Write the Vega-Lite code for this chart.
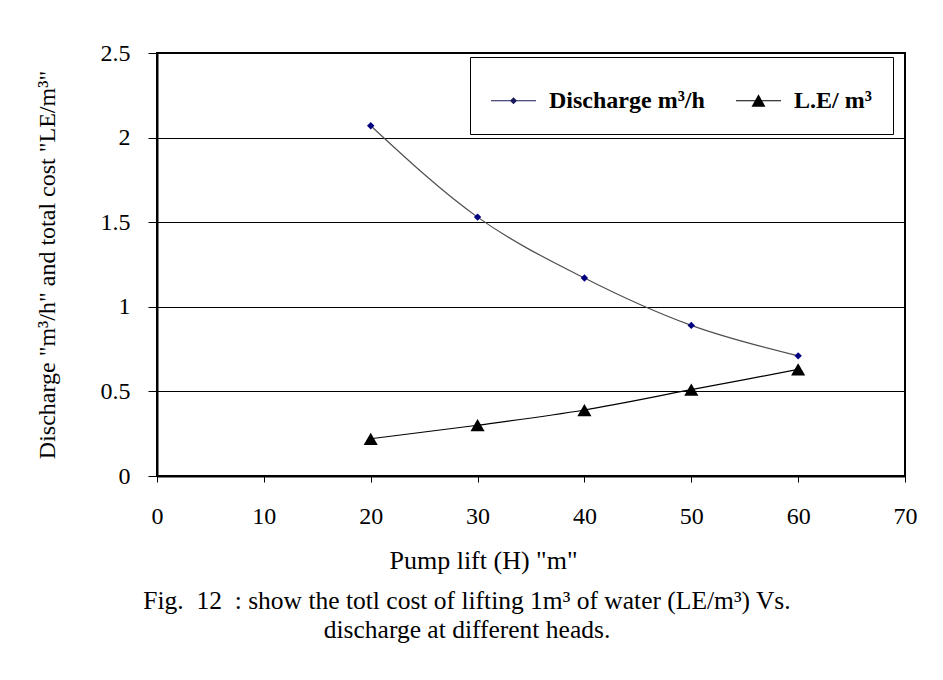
{
  "$schema": "https://vega.github.io/schema/vega-lite/v6.json",
  "width": 748,
  "height": 423,
  "autosize": {"type": "none"},
  "padding": {"left": 157, "top": 53, "right": 38, "bottom": 204},
  "background": "white",
  "config": {
    "font": "Liberation Serif",
    "view": {"stroke": "black", "strokeWidth": 2},
    "axis": {
      "labelFont": "Liberation Serif",
      "titleFont": "Liberation Serif",
      "labelFontSize": 24,
      "titleFontSize": 26,
      "titleFontWeight": "normal",
      "labelColor": "black",
      "titleColor": "black",
      "domainColor": "black",
      "domainWidth": 2,
      "tickColor": "black",
      "tickWidth": 1
    }
  },
  "title": {
    "text": ["Fig.\u00a0 12\u00a0 : show the totl cost of lifting 1m³ of water (LE/m³) Vs.", "discharge at different heads."],
    "orient": "bottom",
    "anchor": "middle",
    "font": "Liberation Serif",
    "fontSize": 25.5,
    "fontWeight": "normal",
    "color": "black",
    "lineHeight": 29,
    "offset": 16,
    "dx": -64
  },
  "data": {
    "values": [
      {"H": 20, "series": "Discharge m³/h", "v": 2.07},
      {"H": 30, "series": "Discharge m³/h", "v": 1.53},
      {"H": 40, "series": "Discharge m³/h", "v": 1.17},
      {"H": 50, "series": "Discharge m³/h", "v": 0.89},
      {"H": 60, "series": "Discharge m³/h", "v": 0.71},
      {"H": 20, "series": "L.E/ m³", "v": 0.22},
      {"H": 30, "series": "L.E/ m³", "v": 0.30},
      {"H": 40, "series": "L.E/ m³", "v": 0.39},
      {"H": 50, "series": "L.E/ m³", "v": 0.51},
      {"H": 60, "series": "L.E/ m³", "v": 0.63}
    ]
  },
  "encoding": {
    "x": {
      "field": "H",
      "type": "quantitative",
      "scale": {"domain": [0, 70], "nice": false, "zero": true},
      "axis": {
        "title": "Pump lift (H) \"m\"",
        "values": [0, 10, 20, 30, 40, 50, 60, 70],
        "grid": false,
        "tickSize": 6,
        "labelPadding": 22,
        "titlePadding": 19,
        "titleX": 326,
        "labelFlush": false
      }
    },
    "y": {
      "field": "v",
      "type": "quantitative",
      "scale": {"domain": [0, 2.5], "nice": false},
      "axis": {
        "title": "Discharge \"m³/h\" and total cost \"LE/m³\"",
        "titleFontSize": 24,
        "values": [0, 0.5, 1, 1.5, 2, 2.5],
        "format": "~g",
        "grid": true,
        "gridColor": "black",
        "gridWidth": 1,
        "gridOpacity": 1,
        "tickSize": 9,
        "labelPadding": 18,
        "titlePadding": 41,
        "labelFlush": false
      }
    }
  },
  "layer": [
    {
      "mark": {"type": "line", "interpolate": "monotone", "strokeWidth": 1.2},
      "encoding": {
        "stroke": {
          "field": "series",
          "type": "nominal",
          "scale": {"domain": ["Discharge m³/h", "L.E/ m³"], "range": ["#505050", "black"]},
          "legend": {
            "title": null,
            "orient": "none",
            "legendX": 313,
            "legendY": 4,
            "direction": "horizontal",
            "strokeColor": "black",
            "fillColor": "white",
            "padding": 21,
            "symbolSize": 2025,
            "symbolStrokeWidth": 1,
            "labelFont": "Liberation Serif",
            "labelFontSize": 24,
            "labelFontWeight": "bold",
            "labelColor": "black",
            "labelOffset": 13,
            "columnPadding": 31,
            "encode": {
              "symbols": {
                "update": {
                  "shape": {"signal": "datum.value === 'L.E/ m³' ? 'M-1,-0.025L1,-0.025L1,0.025L-1,0.025ZM0,-0.29L0.31,0.27L-0.31,0.27Z' : 'M-1,-0.022L1,-0.022L1,0.022L-1,0.022ZM0,-0.16L0.16,0L0,0.16L-0.16,0Z'"},
                  "fill": {"signal": "datum.value === 'L.E/ m³' ? 'black' : '#1a1a5a'"},
                  "stroke": {"value": "transparent"},
                  "strokeWidth": {"value": 0},
                  "opacity": {"value": 1}
                }
              }
            }
          }
        }
      }
    },
    {
      "mark": {"type": "point", "filled": true, "opacity": 1},
      "encoding": {
        "fill": {"condition": {"test": "datum.series === 'L.E/ m³'", "value": "black"}, "value": "#000080"},
        "shape": {"condition": {"test": "datum.series === 'L.E/ m³'", "value": "triangle-up"}, "value": "diamond"},
        "size": {"condition": {"test": "datum.series === 'L.E/ m³'", "value": 200}, "value": 55}
      }
    }
  ]
}
